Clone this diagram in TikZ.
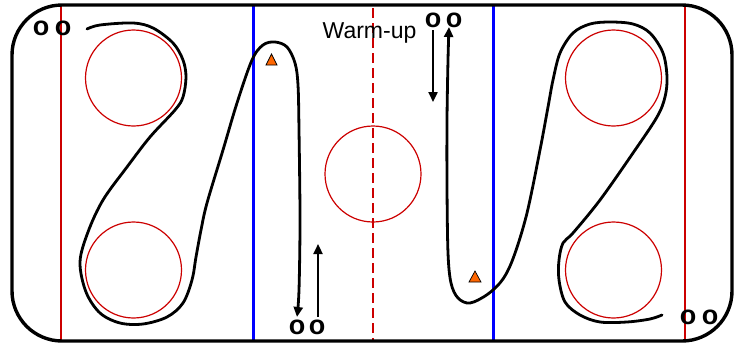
\documentclass[tikz,border=0pt]{standalone}
\usepackage{fontspec}
\setmainfont{Liberation Sans}
\usetikzlibrary{arrows.meta}
\definecolor{rinkred}{RGB}{204,0,0}
\definecolor{rinkblue}{RGB}{0,0,255}
\definecolor{coneorange}{RGB}{255,102,0}
\tikzset{
  rink/.style={line width=3.4pt},
  goalline/.style={draw=rinkred, line width=2pt},
  blueline/.style={draw=rinkblue, line width=3pt},
  centerline/.style={draw=rinkred, line width=2.8pt, dash pattern=on 10pt off 5pt},
  faceoff/.style={draw=rinkred, line width=1.2pt},
  skate/.style={line width=2.8pt, line cap=round, line join=round},
  pass/.style={line width=2.3pt, -{Triangle[length=10pt,width=9pt]}},
  skatearrow/.style={skate, -{Triangle[length=10pt,width=9pt]}},
  player/.style={font=\bfseries\fontsize{27}{27}\selectfont, inner sep=0pt},
  cone/.style={fill=coneorange, draw=black, line width=0.7pt, line join=miter},
  label/.style={font=\fontsize{23}{23}\selectfont, inner sep=0pt, anchor=base}
}
\begin{document}
\begin{tikzpicture}[x=1pt,y=-1pt]
\useasboundingbox (0,0) rectangle (743,343);
% lines
\draw[goalline] (61,5) -- (61,341);
\draw[goalline] (685,5) -- (685,341);
\draw[blueline] (253,5) -- (253,341);
\draw[blueline] (493,5) -- (493,341);
\draw[centerline] (373,8) -- (373,341);
% circles
\draw[faceoff] (133.5,78) circle (48);
\draw[faceoff] (133.5,270) circle (48);
\draw[faceoff] (613.5,78) circle (48);
\draw[faceoff] (613.5,270) circle (48);
\draw[faceoff] (373,174) circle (48);
% board
\draw[rink, rounded corners=50pt] (12,5) rectangle (732,341);
% text
\node[label] (warm) at (369.5,38) {Warm-up};
% players
\node[player] (pa1) at (41,28) {o};
\node[player] (pa2) at (63,28) {o};
\node[player] (pb1) at (297,327) {o};
\node[player] (pb2) at (317,327) {o};
\node[player] (pc1) at (433,20) {o};
\node[player] (pc2) at (454,20) {o};
\node[player] (pd1) at (688,317) {o};
\node[player] (pd2) at (710,317) {o};
% cones
\path[cone] (266,65) -- (271.5,54) -- (277,65) -- cycle;
\path[cone] (469,282) -- (475,271) -- (481,282) -- cycle;
% left skating path
\coordinate (ls) at (87,29);
\coordinate (le) at (297,317);
\draw[skatearrow] plot[smooth, tension=0.55] coordinates {
  (ls) (100,25) (133,23) (153,28) (173,43) (183,60) (186,77) (183,97) (175,110)
  (150,137) (127,167) (103,200) (88,232) (80,262) (86,292) (100,313) (120,323)
  (143,324) (167,317) (183,303) (192,280) (196,257) (201,230) (207,203) (223,150)
  (237,103) (252,60) (263,45) (275,42) (287,47) (295,63) (298,85) (299,130)
  (300,220) (299,290) (le)};
\coordinate (lu1) at (318,317);
\coordinate (lu2) at (318,244);
\draw[pass] (lu1) -- (lu2);
% right skating path
\coordinate (rs) at (662,315);
\coordinate (re) at (449,27);
\draw[skatearrow] plot[smooth, tension=0.55] coordinates {
  (rs) (650,319) (627,322) (600,322) (580,315) (565,302) (559,280) (559,260)
  (563,243) (573,233) (600,200) (633,153) (657,117) (665,97) (667,77) (663,53)
  (650,33) (633,24) (610,22) (590,24) (573,33) (560,53) (553,80) (548,107)
  (540,150) (527,213) (514,256) (503,279) (488,294) (470,303)
  (458,298) (451,283) (448,253) (447,187) (447,120) (448,60) (re)};
\coordinate (rd1) at (433,30);
\coordinate (rd2) at (433,102);
\draw[pass] (rd1) -- (rd2);
\end{tikzpicture}
\end{document}
